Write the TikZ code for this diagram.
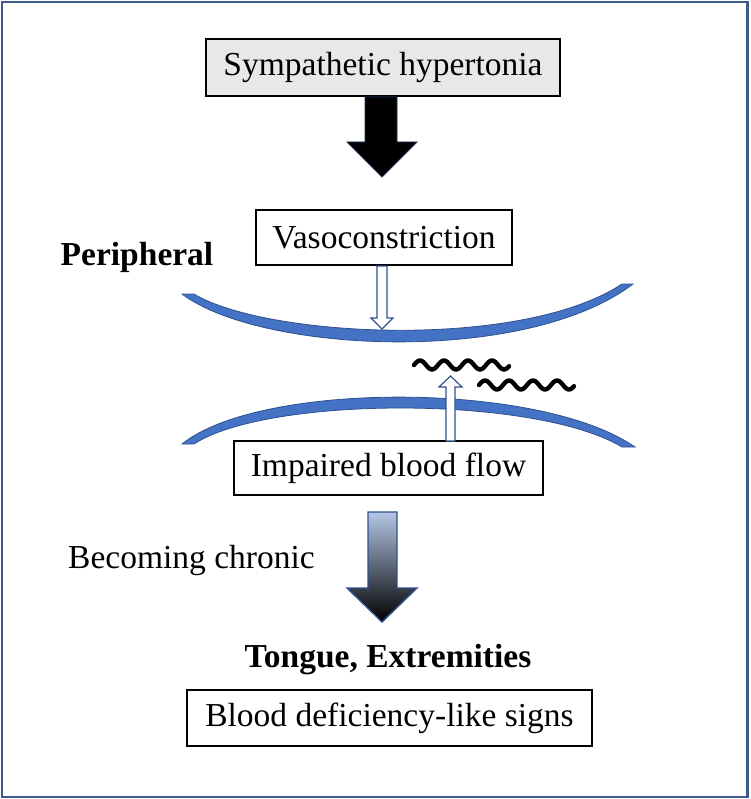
\documentclass[tikz,border=0pt]{standalone}
\usepackage{fontspec}
\setmainfont{Liberation Serif}
\definecolor{frameblue}{HTML}{3C5A8A}
\definecolor{vessel}{HTML}{4472C4}
\definecolor{vesseledge}{HTML}{2F528F}
\definecolor{boxgray}{HTML}{E8E8E8}
\definecolor{lightblue}{HTML}{B4C7E7}
\tikzset{
  txt/.style={font=\fontsize{33.5}{40}\selectfont, inner sep=0pt},
  boldtxt/.style={txt, font=\fontsize{33.5}{40}\selectfont\bfseries},
  stepbox/.style={txt, draw=black, line width=1.8pt, minimum height=54pt},
  vesselshape/.style={fill=vessel, draw=vesseledge, line width=0.8pt},
  openarrow/.style={fill=white, draw=vesseledge, line width=1.2pt, line join=miter},
  squiggle/.style={black, line width=4.4pt, line cap=round},
}
\begin{document}
\begin{tikzpicture}[x=1pt,y=-1pt]
\useasboundingbox (0,0) rectangle (750,799);
\draw[frameblue, line width=2.5pt] (2,2) rectangle (747.5,797);

% nodes
\node[stepbox, fill=boxgray, minimum width=354pt, minimum height=57pt] (symp) at (383,67.5) {Sympathetic hypertonia};
\node[stepbox, fill=white, minimum width=256pt, minimum height=55pt] (vaso) at (384,237.5) {Vasoconstriction};
\node[boldtxt] (periph) at (137,257) {Peripheral};
\node[stepbox, fill=white, minimum width=309pt] (impair) at (388.5,468) {Impaired blood flow};
\node[txt] (chronic) at (191.5,560) {Becoming chronic};
\node[boldtxt] (tongue) at (388,660) {Tongue, Extremities};
\node[stepbox, fill=white, minimum width=405pt, minimum height=56pt] (blood) at (389.5,718) {Blood deficiency-like signs};

% black block arrow
\filldraw[fill=black, draw=vesseledge!60!black, line width=0.8pt, line join=miter]
  (365,97) -- (397,97) -- (397,142) -- (417,142) -- (382,177) -- (347,142) -- (365,142) -- cycle;

% upper vessel wall
\filldraw[vesselshape] (194,294) .. controls (265,337) and (520,351) .. (622,284)
  -- (633,284) .. controls (525,366) and (260,353) .. (182,294) -- cycle;

% lower vessel wall
\filldraw[vesselshape] (182,444) .. controls (260,381) and (540,381) .. (635,447)
  -- (622,447) .. controls (535,395) and (268,396) .. (194,444) -- cycle;

% open arrow down (vasoconstriction)
\filldraw[openarrow] (377,266) -- (387,266) -- (387,318) -- (393,318) -- (382,329) -- (371,318) -- (377,318) -- cycle;

% open arrow up (impaired flow)
\filldraw[openarrow] (446,441) -- (446,387) -- (439,387) -- (450.5,376) -- (462,387) -- (455,387) -- (455,441) -- cycle;

% squiggles
\draw[squiggle] plot[domain=0:95, samples=80, smooth] ({414+\x}, {365-4.5*sin(\x*15)});
\draw[squiggle] plot[domain=0:95, samples=80, smooth] ({479+\x}, {385-4.5*sin(\x*15)});

% gradient arrow
\shade[top color=lightblue, bottom color=black, draw=vesseledge, line width=1.4pt, line join=miter]
  (368,512) -- (397,512) -- (397,588) -- (417,588) -- (382,622) -- (347,588) -- (368,588) -- cycle;
\end{tikzpicture}
\end{document}
